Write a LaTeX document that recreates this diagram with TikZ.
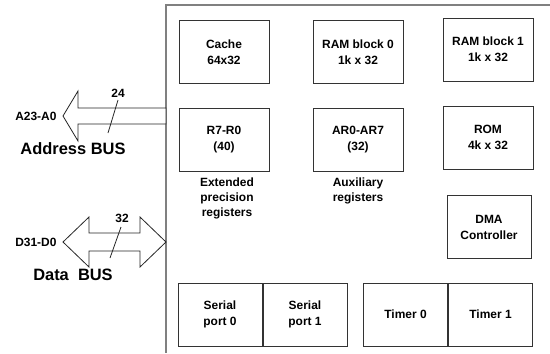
\documentclass[tikz,border=0pt]{standalone}
\usepackage{fontspec}
\setmainfont{Liberation Sans}
\usetikzlibrary{positioning}

\begin{document}
\begin{tikzpicture}[
    x=1bp, y=-1bp,
    font=\bfseries\fontsize{12}{16}\selectfont,
    unit/.style={
        draw=black!80,
        line width=1bp,
        minimum width=90bp,
        minimum height=63bp,
        inner sep=0pt,
        align=center
    },
    port/.style={unit, minimum width=84bp},
    caption/.style={align=center, inner sep=1bp, font=\bfseries\fontsize{12}{15}\selectfont},
    bus/.style={draw=black!85, line width=0.8bp, fill=white},
    buslabel/.style={font=\bfseries\fontsize{16.5}{20}\selectfont},
    tick/.style={draw=black!85, line width=0.8bp}
]
\useasboundingbox (0,0) rectangle (550,353);

% chip outline
\draw[gray, line width=1.5bp] (550,5) -- (166,5) -- (166,353);

% memories
\node[unit] (cache) at (224,52) {Cache\\64x32};
\node[unit] (ram0) at (358,52) {RAM block 0\\1k x 32};
\node[unit] (ram1) at (488,49.5) {RAM block 1\\1k x 32};
\node[unit] (rom) at (488,137.5) {ROM\\4k x 32};

% register files
\node[unit] (regs) at (224,139.5) {R7-R0\\(40)};
\node[unit] (auxregs) at (358,139.5) {AR0-AR7\\(32)};
\node[caption, below=5bp of regs, xshift=3bp] (regscap) {Extended\\precision\\registers};
\node[caption, below=5bp of auxregs] (auxcap) {Auxiliary\\registers};

\node[port] (dma) at (489,227) {DMA\\Controller};

% peripherals
\node[port] (ser0) at (220,314.5) {Serial\\port 0};
\node[port, right=0pt of ser0] (ser1) {Serial\\port 1};
\node[port] (tim0) at (405.5,314.5) {Timer 0};
\node[port, right=0pt of tim0] (tim1) {Timer 1};

% address bus
\draw[bus] (166,108) -- (78,108) -- (78,91) -- (63,116)
    -- (78,141) -- (78,124) -- (166,124) -- cycle;
\node[anchor=east] (addrname) at (60,116) {A23-A0};
\node (addrwidth) at (118,93) {24};
\coordinate (addrtop) at (118,100);
\coordinate (addrbot) at (108,133);
\draw[tick] (addrtop) -- (addrbot);
\node[buslabel] (addrbus) at (73,149) {Address BUS};

% data bus
\draw[bus] (166,242) -- (140,217) -- (140,233) -- (89,233) -- (89,217)
    -- (63,242) -- (89,267) -- (89,251) -- (140,251) -- (140,267) -- cycle;
\node[anchor=east] (dataname) at (60,242) {D31-D0};
\node (datawidth) at (122,218) {32};
\coordinate (datatop) at (121,227);
\coordinate (databot) at (110,258);
\draw[tick] (datatop) -- (databot);
\node[buslabel] (databus) at (73,275) {Data\ \ BUS};
\end{tikzpicture}
\end{document}
